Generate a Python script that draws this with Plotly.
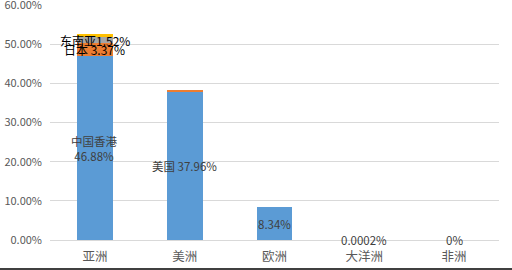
import plotly.graph_objects as go

categories = ["亚洲", "美洲", "欧洲", "大洋洲", "非洲"]
s1 = [46.88, 37.96, 8.34, 0.0002, 0]      # 中国香港 / 美国 / ...
s2 = [3.37, 0.25, 0, 0, 0]                 # 日本 ...
s3 = [1.52, 0, 0, 0, 0]                    # 东南亚
s4 = [0.8, 0, 0, 0, 0]                     # 其他
s1_labels = ["中国香港<br>46.88%", "美国 37.96%", "8.34%", "0.0002%", "0%"]
s2_labels = ["日本 3.37%", "", "", "", ""]
s3_labels = ["东南亚1.52%", "", "", "", ""]
ytick_vals = [0, 10, 20, 30, 40, 50, 60]
ytick_text = ["0.00%", "10.00%", "20.00%", "30.00%", "40.00%", "50.00%", "60.00%"]

colors = ["#5B9BD5", "#ED7D31", "#A5A5A5", "#FFC000"]
FONT = "Noto Sans CJK SC, Microsoft YaHei, sans-serif"

fig = go.Figure()
for vals, c in zip([s1, s2, s3, s4], colors):
    fig.add_trace(go.Bar(x=categories, y=vals, marker=dict(color=c, line=dict(width=0)),
                         showlegend=False, hoverinfo="skip"))

annotations = []
for i, cat in enumerate(categories):
    v = s1[i]
    annotations.append(dict(x=cat, y=v / 2, text=s1_labels[i], showarrow=False,
                            font=dict(size=11.5, color="#404040", family=FONT),
                            xref="x", yref="y", yanchor="middle"))
    if s2_labels[i]:
        y0 = s1[i]
        annotations.append(dict(x=cat, y=y0 + s2[i] / 2, text=s2_labels[i], showarrow=False,
                                font=dict(size=12, color="#000000", family=FONT),
                                xref="x", yref="y", yanchor="middle"))
    if s3_labels[i]:
        y0 = s1[i] + s2[i]
        annotations.append(dict(x=cat, y=y0 + s3[i] / 2, text=s3_labels[i], showarrow=False,
                                font=dict(size=12, color="#000000", family=FONT),
                                xref="x", yref="y", yanchor="middle"))

fig.update_layout(
    barmode="stack",
    bargap=0.6,
    width=512, height=270,
    margin=dict(l=50, r=13, t=4, b=30),
    paper_bgcolor="white", plot_bgcolor="white",
    font=dict(family=FONT, color="#595959"),
    annotations=annotations,
    shapes=[dict(type="line", xref="paper", yref="paper", x0=-0.12, x1=1.03,
                 y0=-0.1226, y1=-0.1226, line=dict(color="#000000", width=1.5))],
)
fig.update_xaxes(showgrid=False, showline=True, linecolor="#d9d9d9", linewidth=1,
                 tickfont=dict(size=12.5, color="#595959", family=FONT), ticks="",
                 ticklabelstandoff=5, automargin=False)
fig.update_yaxes(range=[0, 60.25], tickvals=ytick_vals, ticktext=ytick_text,
                 showgrid=True, gridcolor="#d9d9d9", gridwidth=1, zeroline=False,
                 showline=False, tickfont=dict(size=11, color="#595959", family=FONT),
                 ticklabelstandoff=7, ticklabeloverflow="allow", automargin=False)

fig.write_html("out.html")
